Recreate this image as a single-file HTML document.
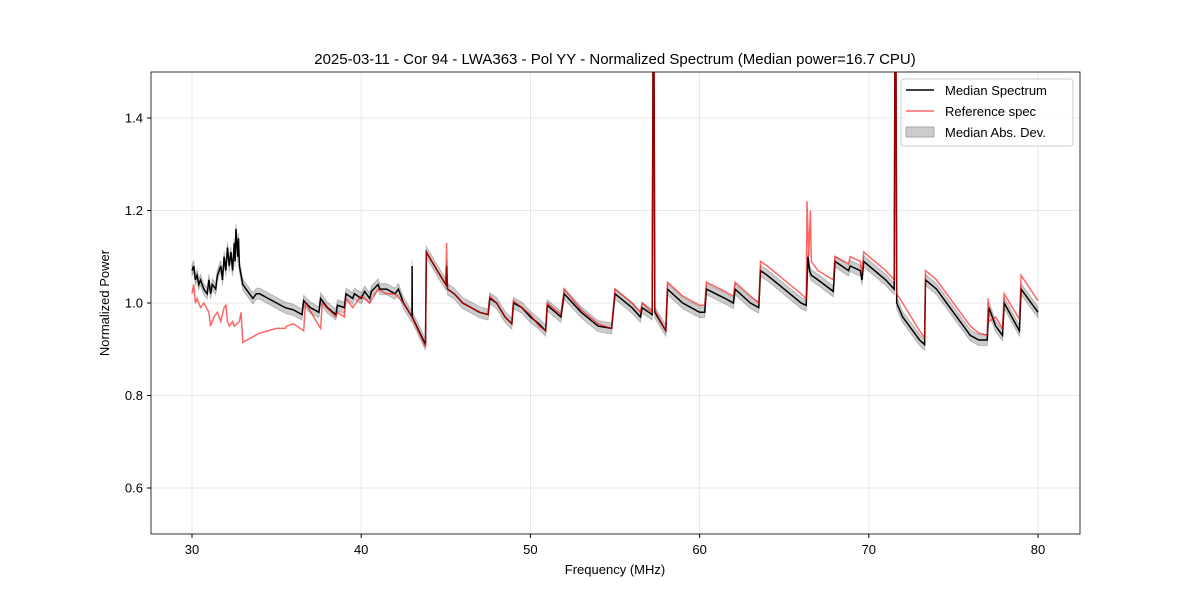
<!DOCTYPE html>
<html><head><meta charset="utf-8"><style>
body{margin:0;background:#fff;}
svg text{font-family:"Liberation Sans",sans-serif;fill:#000;}
</style></head><body>
<svg width="1200" height="600" viewBox="0 0 1200 600">
<defs><clipPath id="pc"><rect x="151" y="72" width="929" height="462"/></clipPath></defs>
<rect x="0" y="0" width="1200" height="600" fill="#fff"/>
<g id="grid"></g>
<g clip-path="url(#pc)">
<path id="band" fill="#000" fill-opacity="0.2" stroke="#000" stroke-opacity="0.2"/>
<path id="med" fill="none" stroke="#000" stroke-width="1.5"/>
<path id="ref" fill="none" stroke="#f00" stroke-opacity="0.6" stroke-width="1.5"/>
</g>
<rect x="151" y="72" width="929" height="462" fill="none" stroke="#000" stroke-width="0.8"/>
<g id="ticks"></g>
<text x="615" y="64" text-anchor="middle" font-size="15">2025-03-11 - Cor 94 - LWA363 - Pol YY - Normalized Spectrum (Median power=16.7 CPU)</text>
<text x="615" y="574" text-anchor="middle" font-size="13">Frequency (MHz)</text>
<text x="109" y="303" text-anchor="middle" font-size="13" transform="rotate(-90 109 303)">Normalized Power</text>
<g>
<rect x="901" y="79" width="172" height="67" rx="3" fill="#fff" fill-opacity="0.8" stroke="#ccc"/>
<line x1="906" y1="90" x2="934" y2="90" stroke="#000" stroke-width="1.5"/>
<text x="945" y="95" font-size="13">Median Spectrum</text>
<line x1="906" y1="111" x2="934" y2="111" stroke="#f66" stroke-width="1.5"/>
<text x="945" y="116" font-size="13">Reference spec</text>
<rect x="906" y="127" width="28" height="10" fill="#ccc" stroke="#aaa"/>
<text x="945" y="137" font-size="13">Median Abs. Dev.</text>
</g>
</svg>
<script>
const xTicks=[30,40,50,60,70,80];
const yTicks=[0.6,0.8,1.0,1.2,1.4];
const medFreq=[30,30.1,30.2,30.3,30.4,30.5,30.7,30.9,31,31.1,31.2,31.4,31.5,31.7,31.8,31.9,32,32.1,32.2,32.3,32.4,32.5,32.55,32.6,32.7,32.75,32.8,32.9,33,33.2,33.4,33.6,33.8,34,34.5,35,35.5,36,36.5,36.6,37,37.5,37.6,38,38.5,38.6,39,39.1,39.5,39.6,40,40.2,40.5,40.6,41,41.1,41.5,42,42.2,42.5,43,43.01,43.02,43.8,43.85,44.5,45,45.05,45.1,45.5,46,46.5,47,47.5,47.6,48,48.5,48.9,49,49.5,50,50.5,50.9,51,51.8,52,53,54,54.8,55,56,56.5,56.6,57.2,57.25,57.3,57.35,58,58.1,59,60,60.3,60.4,61.5,62,62.1,63,63.5,63.6,64,65,66,66.3,66.4,66.5,66.6,67,67.9,68,68.8,68.9,69.5,69.6,69.7,71,71.5,71.55,71.6,71.65,72,73,73.3,73.35,74,75,76,76.5,77,77.1,77.5,77.9,78,78.9,79,80];
const medVal=[1.07,1.08,1.05,1.06,1.04,1.05,1.03,1.02,1.05,1.02,1.04,1.03,1.06,1.08,1.05,1.1,1.07,1.12,1.08,1.11,1.07,1.13,1.09,1.16,1.1,1.14,1.08,1.06,1.04,1.03,1.02,1.01,1.02,1.02,1.01,1.0,0.99,0.985,0.975,1.005,0.99,0.98,1.01,0.99,0.975,0.995,0.99,1.02,1.01,1.02,1.01,1.025,1.01,1.025,1.04,1.03,1.03,1.02,1.03,1.0,0.97,1.08,0.97,0.91,1.11,1.07,1.04,1.08,1.03,1.02,1.0,0.99,0.98,0.975,1.01,1.0,0.97,0.955,1.0,0.99,0.97,0.955,0.94,0.995,0.97,1.02,0.98,0.95,0.945,1.02,0.99,0.97,0.99,0.975,1.6,1.6,0.98,0.94,1.03,1.0,0.98,0.98,1.03,1.01,1.0,1.03,1.0,0.99,1.07,1.06,1.03,1.0,0.995,1.1,1.07,1.06,1.05,1.025,1.09,1.07,1.08,1.07,1.05,1.09,1.05,1.03,1.6,1.6,1.0,0.97,0.92,0.91,1.05,1.03,0.98,0.93,0.92,0.92,0.99,0.95,0.93,1.0,0.94,1.03,0.98];
const refFreq=[30,30.1,30.2,30.3,30.5,30.7,31,31.1,31.3,31.5,31.7,31.9,32,32.1,32.2,32.4,32.5,32.8,32.9,33,33.5,34,35,35.5,35.6,36,36.6,36.7,37.6,37.7,38.5,38.6,39,39.1,39.5,40,40.5,41,41.5,42,42.5,43,43.8,43.85,44.5,45,45.05,45.1,45.5,46,47,47.5,47.6,48,48.5,48.9,49,50,50.5,50.9,51,51.8,52,53,54,54.8,55,56,56.5,56.6,57.2,57.25,57.3,57.35,58,58.1,59,60,60.3,60.4,61.5,62,62.1,63,63.5,63.6,64,65,66,66.3,66.35,66.45,66.55,66.6,67,67.9,68,68.8,68.9,69.5,69.6,69.7,71,71.5,71.55,71.6,71.65,72,73,73.3,73.35,74,75,76,76.5,77,77.05,77.1,77.5,77.9,78,78.9,79,80];
const refVal=[1.02,1.04,1.0,1.01,0.99,1.0,0.98,0.95,0.97,0.98,0.96,0.99,0.995,0.96,0.95,0.96,0.95,0.96,0.98,0.915,0.925,0.935,0.945,0.945,0.95,0.955,0.94,1.0,0.945,1.0,0.97,0.98,0.97,1.01,0.99,1.015,1.0,1.03,1.02,1.02,1.0,0.97,0.905,1.11,1.07,1.04,1.13,1.03,1.02,1.0,0.98,0.975,1.015,1.0,0.97,0.955,1.005,0.975,0.95,0.94,1.0,0.975,1.03,0.985,0.955,0.945,1.03,1.0,0.98,1.0,0.98,1.6,1.6,0.985,0.94,1.045,1.015,0.995,0.995,1.045,1.025,1.015,1.045,1.015,1.0,1.09,1.08,1.05,1.02,1.01,1.22,1.1,1.2,1.09,1.07,1.05,1.1,1.085,1.1,1.09,1.065,1.11,1.07,1.05,1.6,1.6,1.02,1.0,0.94,0.925,1.07,1.05,1.0,0.95,0.935,0.93,1.01,0.96,0.97,0.945,1.02,0.965,1.06,1.005];
const madWidth=0.012;
const X=f=>192+(f-30)*16.92;
const Y=v=>534.25-(v-0.5)*462.5;
const NS="http://www.w3.org/2000/svg";
const grid=document.getElementById('grid'),ticks=document.getElementById('ticks');
function mk(tag,attrs,parent){const e=document.createElementNS(NS,tag);for(const k in attrs)e.setAttribute(k,attrs[k]);parent.appendChild(e);return e;}
xTicks.forEach(t=>{const x=X(t);
const g=mk('line',{x1:x,x2:x,y1:72,y2:534,stroke:'#b0b0b0','stroke-opacity':0.35,'stroke-width':0.8},grid);


mk('line',{x1:x,x2:x,y1:534,y2:538,stroke:'#000'},ticks);
const tx=mk('text',{x:x,y:554,'text-anchor':'middle','font-size':13},ticks);tx.textContent=t;

});
yTicks.forEach(t=>{const y=Y(t);
const g=mk('line',{x1:151,x2:1080,y1:y,y2:y,stroke:'#b0b0b0','stroke-opacity':0.35,'stroke-width':0.8},grid);


mk('line',{x1:147,x2:151,y1:y,y2:y,stroke:'#000'},ticks);
const tx=mk('text',{x:143,y:y+4.5,'text-anchor':'end','font-size':13},ticks);tx.textContent=t.toFixed(1);

});
const line=(fs,vs)=>fs.map((f,i)=>(i?'L':'M')+X(f).toFixed(1)+','+Y(vs[i]).toFixed(1)).join('');
document.getElementById('med').setAttribute('d',line(medFreq,medVal));
document.getElementById('ref').setAttribute('d',line(refFreq,refVal));
let b=medFreq.map((f,i)=>(i?'L':'M')+X(f).toFixed(1)+','+Y(medVal[i]+madWidth).toFixed(1)).join('');
for(let i=medFreq.length-1;i>=0;i--)b+='L'+X(medFreq[i]).toFixed(1)+','+Y(medVal[i]-madWidth).toFixed(1);
document.getElementById('band').setAttribute('d',b+'Z');
</script>
</body></html>
